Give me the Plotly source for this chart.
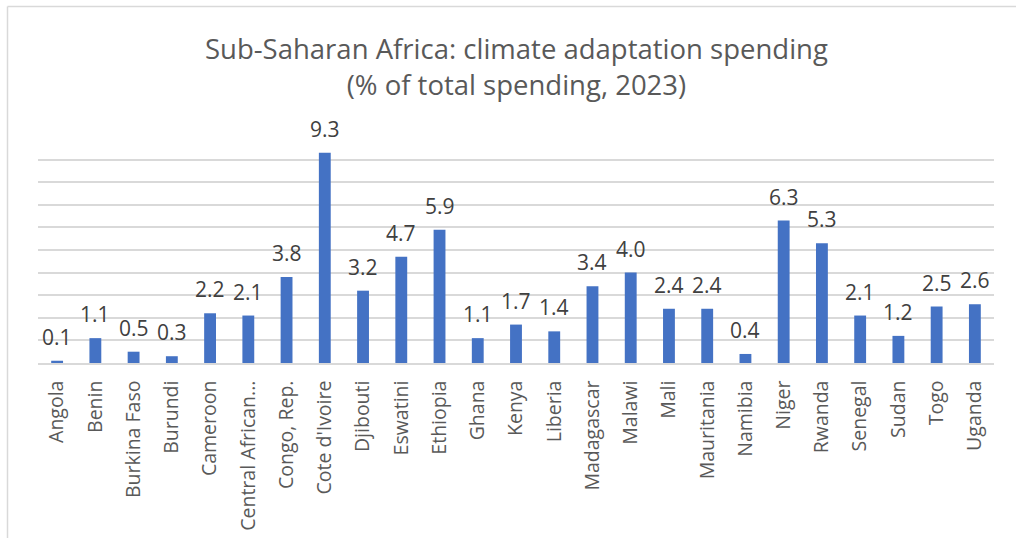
import plotly.graph_objects as go

countries = ["Angola", "Benin", "Burkina Faso", "Burundi", "Cameroon",
             "Central African...", "Congo, Rep.", "Cote d'Ivoire", "Djibouti",
             "Eswatini", "Ethiopia", "Ghana", "Kenya", "Liberia", "Madagascar",
             "Malawi", "Mali", "Mauritania", "Namibia", "Niger", "Rwanda",
             "Senegal", "Sudan", "Togo", "Uganda"]
spending_pct = [0.1, 1.1, 0.5, 0.3, 2.2, 2.1, 3.8, 9.3, 3.2, 4.7, 5.9, 1.1, 1.7,
                1.4, 3.4, 4.0, 2.4, 2.4, 0.4, 6.3, 5.3, 2.1, 1.2, 2.5, 2.6]
title_text = "Sub-Saharan Africa: climate adaptation spending<br>(% of total spending, 2023)"

W, H = 1016, 538
L, R, T, B = 38, 22, 137, 175
FONT = "Open Sans"

fig = go.Figure(go.Bar(
    x=countries, y=spending_pct,
    marker=dict(color="#4472C4", line=dict(width=0)),
    width=0.31,
))

# value labels above each bar
annotations = [
    dict(x=c, y=v, text=f"{v:.1f}", showarrow=False, xref="x", yref="y",
         yanchor="middle", yshift=24,
         font=dict(family=FONT, size=21, color="#404040"))
    for c, v in zip(countries, spending_pct)
]

# two-line chart title
ph = H - T - B
pw = W - L - R
annotations.append(dict(
    x=0.5, y=(H - 67 - B) / ph, xref="paper", yref="paper", text=title_text,
    showarrow=False, yanchor="middle", align="center",
    font=dict(family=FONT, size=27.5, color="#595959")))

# light outer chart border (left and top edges visible)
bx0 = (7.5 - L) / pw
by1 = (H - 6.5 - B) / ph
shapes = [
    dict(type="line", xref="paper", yref="paper", x0=bx0, x1=bx0, y0=(0 - B) / ph, y1=by1,
         line=dict(color="#d9d9d9", width=1.5)),
    dict(type="line", xref="paper", yref="paper", x0=bx0, x1=(W - L) / pw, y0=by1, y1=by1,
         line=dict(color="#d9d9d9", width=1.5)),
]

fig.update_layout(
    width=W, height=H,
    margin=dict(l=L, r=R, t=T, b=B, pad=0, autoexpand=False),
    paper_bgcolor="white", plot_bgcolor="white",
    showlegend=False,
    annotations=annotations,
    shapes=shapes,
    bargap=0.69,
)
fig.update_xaxes(
    tickangle=-90, tickfont=dict(family=FONT, size=19.5, color="#595959"),
    ticks="outside", ticklen=8, tickcolor="rgba(0,0,0,0)",
    showline=True, linecolor="#d9d9d9", linewidth=1.5,
    showgrid=False, automargin=False,
)
fig.update_yaxes(
    range=[0, 10], dtick=1, showticklabels=False,
    showgrid=True, gridcolor="#d9d9d9", gridwidth=1.5,
    zeroline=False, showline=False, automargin=False,
)

fig.write_html("out.html")
